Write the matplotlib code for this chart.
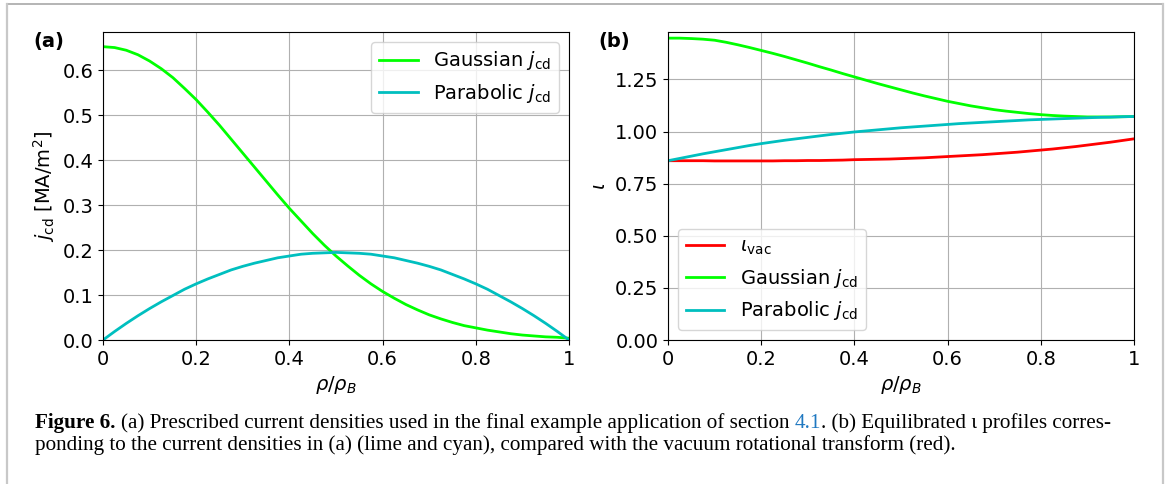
import matplotlib
matplotlib.use('Agg')
import matplotlib.pyplot as plt
from matplotlib.lines import Line2D

plt.rcParams['font.family'] = 'DejaVu Sans'
plt.rcParams['mathtext.fontset'] = 'dejavusans'

# radial grid rho/rho_B
rho = [0.0, 0.025, 0.05, 0.075, 0.1, 0.125, 0.15, 0.175, 0.2, 0.225, 0.25,
       0.275, 0.3, 0.325, 0.35, 0.375, 0.4, 0.425, 0.45, 0.475, 0.5,
       0.525, 0.55, 0.575, 0.6, 0.625, 0.65, 0.675, 0.7, 0.725, 0.75,
       0.775, 0.8, 0.825, 0.85, 0.875, 0.9, 0.925, 0.95, 0.975, 1.0]

# (a) prescribed current densities [MA/m^2]
gauss_jcd = [0.653, 0.651, 0.645, 0.635, 0.621, 0.604, 0.584, 0.560, 0.535, 0.507, 0.478,
             0.447, 0.416, 0.385, 0.354, 0.323, 0.293, 0.265, 0.237, 0.211, 0.187,
             0.165, 0.144, 0.125, 0.108, 0.093, 0.079, 0.067, 0.056, 0.047, 0.039,
             0.032, 0.027, 0.022, 0.018, 0.014, 0.011, 0.009, 0.007, 0.006, 0.004]
parab_jcd = [0.000, 0.019, 0.037, 0.054, 0.070, 0.085, 0.099, 0.113, 0.125, 0.136, 0.146,
             0.156, 0.164, 0.171, 0.177, 0.183, 0.187, 0.191, 0.193, 0.194, 0.195,
             0.194, 0.193, 0.191, 0.187, 0.183, 0.177, 0.171, 0.164, 0.156, 0.146,
             0.136, 0.125, 0.113, 0.099, 0.085, 0.070, 0.054, 0.037, 0.019, 0.000]

# (b) rotational transform profiles
iota_vac = [0.860, 0.860, 0.860, 0.860, 0.859, 0.859, 0.859, 0.859, 0.859, 0.859, 0.860,
            0.860, 0.861, 0.861, 0.862, 0.863, 0.865, 0.866, 0.867, 0.868, 0.870,
            0.872, 0.874, 0.877, 0.880, 0.883, 0.886, 0.889, 0.893, 0.897, 0.901,
            0.906, 0.911, 0.916, 0.922, 0.928, 0.935, 0.942, 0.949, 0.957, 0.965]
iota_gauss = [1.448, 1.448, 1.446, 1.443, 1.438, 1.428, 1.416, 1.403, 1.389, 1.375, 1.360,
              1.344, 1.328, 1.311, 1.295, 1.278, 1.262, 1.246, 1.230, 1.215, 1.200,
              1.185, 1.171, 1.158, 1.145, 1.134, 1.123, 1.114, 1.105, 1.098, 1.092,
              1.086, 1.081, 1.077, 1.074, 1.072, 1.070, 1.070, 1.070, 1.071, 1.072]
iota_parab = [0.860, 0.871, 0.882, 0.893, 0.903, 0.913, 0.923, 0.933, 0.942, 0.950, 0.958,
              0.965, 0.972, 0.979, 0.986, 0.992, 0.998, 1.003, 1.008, 1.013, 1.018,
              1.022, 1.026, 1.030, 1.034, 1.038, 1.041, 1.044, 1.047, 1.050, 1.053,
              1.056, 1.058, 1.060, 1.062, 1.064, 1.066, 1.068, 1.069, 1.071, 1.072]

xticks = [0, 0.2, 0.4, 0.6, 0.8, 1]
xticklabels = ['0', '0.2', '0.4', '0.6', '0.8', '1']
yticks_a = [0.0, 0.1, 0.2, 0.3, 0.4, 0.5, 0.6]
yticks_b = [0.0, 0.25, 0.5, 0.75, 1.0, 1.25]

lime = '#00ff00'
cyan = '#00bfbf'
red = '#ff0000'
fs = 14

W, H = 1167, 484
fig = plt.figure(figsize=(W / 100, H / 100), dpi=100)

def px_axes(x0, y0, x1, y1):
    return fig.add_axes([x0 / W, 1 - y1 / H, (x1 - x0) / W, (y1 - y0) / H])

ax1 = px_axes(103, 32, 569, 340)
ax2 = px_axes(668, 32, 1134, 340)

# ---- panel (a)
ax1.plot(rho, gauss_jcd, color=lime, lw=2, label=r'Gaussian $j_{\rm cd}$')
ax1.plot(rho, parab_jcd, color=cyan, lw=2, label=r'Parabolic $j_{\rm cd}$')
ax1.set_xlim(0, 1)
ax1.set_ylim(0, None)
ax1.set_yticks(yticks_a)
ax1.set_ylabel(r'$j_{\rm cd}$ [MA/m$^2$]', fontsize=fs)
ax1.legend(loc='upper right', fontsize=fs)

# ---- panel (b)
ax2.plot(rho, iota_vac, color=red, lw=2, label=r'$\iota_{\rm vac}$')
ax2.plot(rho, iota_gauss, color=lime, lw=2, label=r'Gaussian $j_{\rm cd}$')
ax2.plot(rho, iota_parab, color=cyan, lw=2, label=r'Parabolic $j_{\rm cd}$')
ax2.set_xlim(0, 1)
ax2.set_ylim(0, None)
ax2.set_yticks(yticks_b)
ax2.set_ylabel(r'$\iota$', fontsize=fs)
ax2.legend(loc='lower left', fontsize=fs)

for ax in (ax1, ax2):
    ax.set_xticks(xticks)
    ax.set_xticklabels(xticklabels)
    ax.tick_params(labelsize=fs)
    ax.grid(True)
    ax.set_xlabel(r'$\rho/\rho_B$', fontsize=fs)

fig.text(33 / W, 1 - 42 / H, '(a)', fontsize=fs, fontweight='bold', va='center')
fig.text(598 / W, 1 - 42 / H, '(b)', fontsize=fs, fontweight='bold', va='center')

# ---- frame of the figure box
fig.add_artist(Line2D([7 / W, 1163 / W], [1 - 4 / H, 1 - 4 / H], color='#a8a8a8', lw=1.2))
fig.add_artist(Line2D([7 / W, 7 / W], [1 - 4 / H, 0], color='#c8c8c8', lw=1.6))
fig.add_artist(Line2D([1163 / W, 1163 / W], [1 - 4 / H, 0], color='#c8c8c8', lw=1.6))

# ---- caption, laid out piece by piece
line1 = [('Figure 6.', 'bold', 'black'),
         ('(a) Prescribed current densities used in the final example application of section', 'normal', 'black'),
         ('4.1', 'normal', '#1f78c1'),
         ('. (b) Equilibrated \u03b9 profiles corres-', 'normal', 'black', 'nogap')]
line2 = [('ponding to the current densities in (a) (lime and cyan), compared with the vacuum rotational transform (red).', 'normal', 'black')]

serif = 'Liberation Serif'
renderer = fig.canvas.get_renderer()

def layout(pieces, x0, y, size, draw=True):
    x = x0
    gap_a = fig.text(0, 0, 'a a', family=serif, fontsize=size)
    gap_b = fig.text(0, 0, 'aa', family=serif, fontsize=size)
    gap = gap_a.get_window_extent(renderer).width - gap_b.get_window_extent(renderer).width
    gap_a.remove()
    gap_b.remove()
    texts = []
    for i, p in enumerate(pieces):
        if i > 0 and len(p) < 4:
            x += gap
        t = fig.text(x / W, 1 - y / H, p[0], family=serif, fontsize=size,
                     fontweight=p[1], color=p[2], va='baseline')
        x += t.get_window_extent(renderer).width
        texts.append(t)
    if not draw:
        for t in texts:
            t.remove()
    return x

base = 12
end = layout(line1, 35, 428, base, draw=False)
size = base * (1112 - 35) / (end - 35)
layout(line1, 35, 428, size)
layout(line2, 35, 450, size)

fig.savefig('out.png', dpi=100)
